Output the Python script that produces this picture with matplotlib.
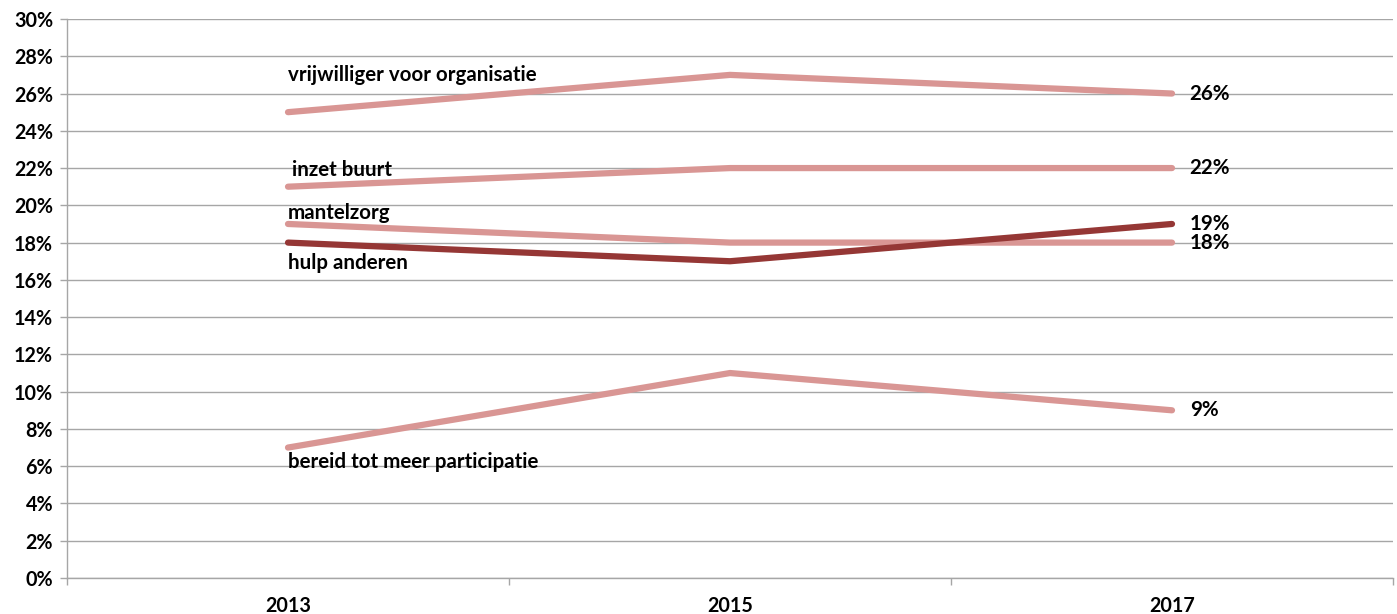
import matplotlib
matplotlib.use("Agg")
import matplotlib.pyplot as plt
from matplotlib.ticker import FixedLocator, PercentFormatter

years = ["2013", "2015", "2017"]
series_names = ["vrijwilliger voor organisatie", "inzet buurt", "mantelzorg",
                "hulp anderen", "bereid tot meer participatie"]
vrijwilliger = [25, 27, 26]
inzet_buurt = [21, 22, 22]
mantelzorg = [19, 18, 18]
hulp_anderen = [18, 17, 19]
bereid = [7, 11, 9]
yticks = list(range(0, 31, 2))

light = "#d99694"
dark = "#953735"
grid = "#a6a6a6"

plt.rcParams['font.family'] = ['Lato', 'DejaVu Sans']
plt.rcParams['font.weight'] = 'bold'

fig = plt.figure(figsize=(13.97, 6.14), dpi=100)
ax = fig.add_axes([67/1397, 36/614, 1326/1397, 559/614])

x = list(range(len(years)))
data = [vrijwilliger, inzet_buurt, mantelzorg, hulp_anderen, bereid]
colors = [light, light, light, dark, light]
order = [0, 1, 2, 4, 3]
for i in order:
    ax.plot(x, data[i], color=colors[i], lw=4.5, solid_capstyle='round', zorder=3)

# series labels near start
label_pos = [(0, 27.0), (0.01, 21.9), (0, 19.6), (0, 16.9), (0, 6.2)]
for name, (lx, ly) in zip(series_names, label_pos):
    ax.text(lx, ly, name, ha='left', va='center', fontsize=14.8, fontweight='bold', color='black', zorder=4)

# end value labels
for d in data:
    ax.text(2.04, d[-1], f"{d[-1]}%", ha='left', va='center', fontsize=14.8, fontweight='bold', zorder=4)

ax.set_xlim(-0.5, 2.5)
ax.set_ylim(0, 30)
ax.set_yticks(yticks)
ax.yaxis.set_major_formatter(PercentFormatter(decimals=0))
ax.set_xticks(x)
ax.set_xticklabels(years)
ax.xaxis.set_minor_locator(FixedLocator([-0.5, 0.5, 1.5, 2.5]))
ax.tick_params(axis='x', which='major', length=0, pad=13, labelsize=14.2)
ax.tick_params(axis='x', which='minor', length=5, color=grid, width=1)
ax.tick_params(axis='y', length=5, color=grid, width=1, labelsize=14.2, pad=5)
ax.grid(axis='y', color=grid, lw=1, zorder=0)
for s in ['top', 'right']:
    ax.spines[s].set_visible(False)
for s in ['left', 'bottom']:
    ax.spines[s].set_color(grid)
    ax.spines[s].set_linewidth(1)
for lbl in ax.get_xticklabels() + ax.get_yticklabels():
    lbl.set_fontweight('bold')

fig.savefig("out.png", dpi=100)
